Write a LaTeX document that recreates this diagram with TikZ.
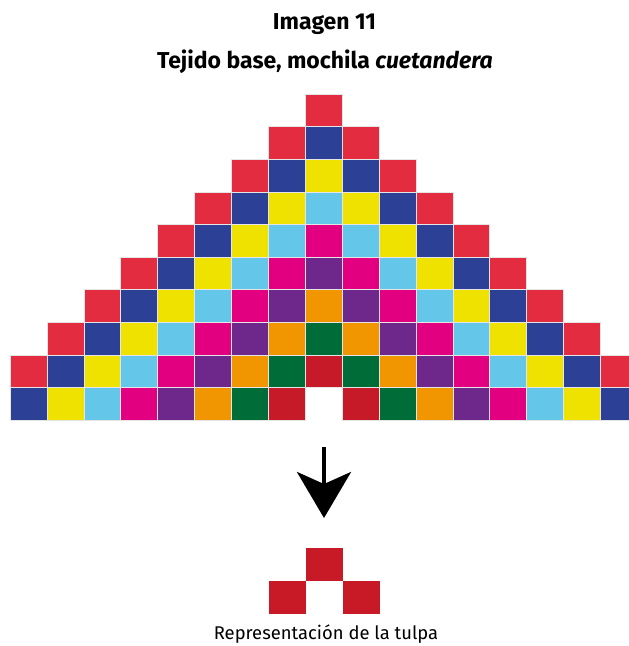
\documentclass[tikz,border=0pt]{standalone}
\usepackage{fontspec}
\setmainfont{Fira Sans}
\usetikzlibrary{arrows.meta, positioning}
\definecolor{tejido0}{RGB}{228, 44, 64}
\definecolor{tejido1}{RGB}{44, 64, 150}
\definecolor{tejido2}{RGB}{240, 226, 0}
\definecolor{tejido3}{RGB}{100, 198, 232}
\definecolor{tejido4}{RGB}{226, 0, 128}
\definecolor{tejido5}{RGB}{110, 40, 140}
\definecolor{tejido6}{RGB}{242, 150, 0}
\definecolor{tejido7}{RGB}{0, 108, 56}
\definecolor{tejido8}{RGB}{198, 26, 40}
\definecolor{tulpared}{RGB}{200, 26, 38}

\begin{document}
\begin{tikzpicture}[x=1pt, y=-1pt, >=Stealth,
    cell/.style={line width=0.5pt, draw=white!90!black},
    tulpacell/.style={rectangle, fill=tulpared, minimum width=36.9pt, minimum height=32.6pt, inner sep=0pt},
    titulo/.style={font=\bfseries\fontsize{23}{27}\selectfont}]
\useasboundingbox (0,0) rectangle (629,646);
\clip (0,0) rectangle (629,646);

% Titles
\node[titulo, anchor=base] at (324.5,29) (tit1) {Imagen 11};
\node[titulo, anchor=base] at (325,68) (tit2) {Tejido base, mochila \textit{cuetandera}};

% Base weave (rows 1..10, columns 0..16)
\foreach \k in {1,...,10} {
  \foreach \c in {0,...,16} {
    \pgfmathtruncatemacro{\m}{abs(\c-8)}
    \pgfmathtruncatemacro{\idx}{\k-1-\m}
    \ifnum\idx>-1 \ifnum\idx<9
      \filldraw[cell, fill=tejido\idx] (10+36.9*\c, 61.4+32.6*\k) rectangle ++(36.9,32.6);
    \fi\fi
  }
}

% Arrow
\coordinate (flechaini) at (324,447);
\coordinate (flechafin) at (324,518);
\draw[-{Stealth[length=46pt, width=54pt, inset=12pt]}, line width=4pt] (flechaini) -- (flechafin);

% Tulpa
\node[tulpacell] at (324.5,564.3) (tulpa1) {};
\node[tulpacell, below left=0pt of tulpa1] (tulpa2) {};
\node[tulpacell, below right=0pt of tulpa1] (tulpa3) {};
\node[anchor=base, font=\fontsize{18.4}{22}\selectfont] at (326,639) (etiqueta) {Representación de la tulpa};
\end{tikzpicture}
\end{document}
